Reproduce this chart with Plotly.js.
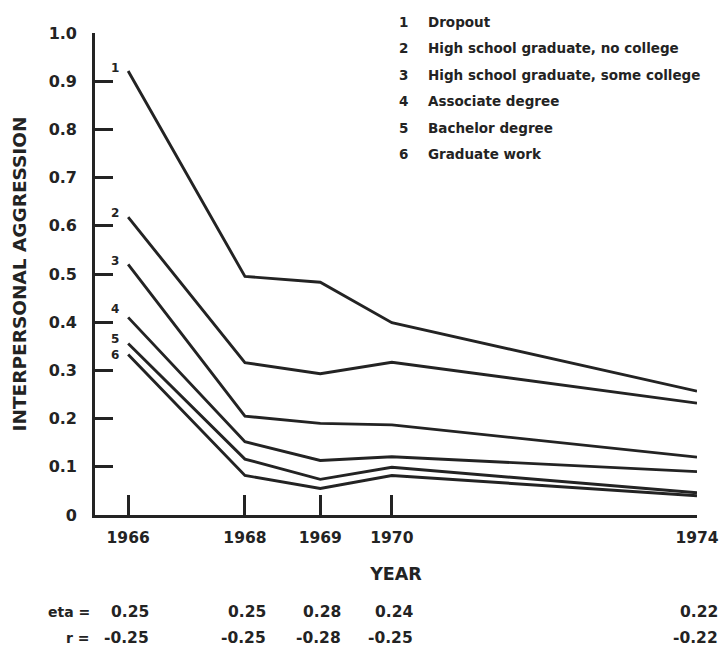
<!DOCTYPE html>
<html>
<head>
<meta charset="utf-8">
<script src="https://cdn.plot.ly/plotly-3.0.1.min.js"></script>
<style>
  html, body { margin: 0; padding: 0; background: #ffffff; }
  #chart { width: 720px; height: 646px; }
</style>
</head>
<body>
<div id="chart"></div>
<script>
// ---------------- data ----------------
const yearLabels = ['1966', '1968', '1969', '1970', '1974'];
// survey dates (fall 1966, then spring waves), in years
const surveyTime = [1966.85, 1968.4, 1969.4, 1970.35, 1974.4];

const groupNumbers = ['1', '2', '3', '4', '5', '6'];
const groupNames = [
  'Dropout',
  'High school graduate, no college',
  'High school graduate, some college',
  'Associate degree',
  'Bachelor degree',
  'Graduate work'
];

const dropout       = [0.921, 0.495, 0.483, 0.399, 0.257];
const hsNoCollege   = [0.618, 0.316, 0.293, 0.317, 0.232];
const hsSomeCollege = [0.520, 0.205, 0.190, 0.187, 0.120];
const associate     = [0.410, 0.152, 0.113, 0.121, 0.090];
const bachelor      = [0.356, 0.116, 0.074, 0.099, 0.046];
const graduate      = [0.333, 0.082, 0.055, 0.082, 0.040];

const etaValues = ['0.25', '0.25', '0.28', '0.24', '0.22'];
const rValues   = ['-0.25', '-0.25', '-0.28', '-0.25', '-0.22'];

const yTickVals = [0, 0.1, 0.2, 0.3, 0.4, 0.5, 0.6, 0.7, 0.8, 0.9, 1.0];
const yTickText = ['0', '0.1', '0.2', '0.3', '0.4', '0.5', '0.6', '0.7', '0.8', '0.9', '1.0'];

// ---------------- styling ----------------
const INK = '#232323';
const FONT = 'DejaVu Sans';
const W = 720, H = 646;
const M = { l: 95, r: 23, t: 33, b: 131 };
const plotW = W - M.l - M.r, plotH = H - M.t - M.b;
const px2paperX = px => (px - M.l) / plotW;
const px2paperY = py => (H - M.b - py) / plotH;

const series = [dropout, hsNoCollege, hsSomeCollege, associate, bachelor, graduate];
const labelYShift = [3, 4, 3, 8, 4, -1];

const traces = series.map((vals, i) => ({
  type: 'scatter',
  mode: 'lines',
  x: surveyTime,
  y: vals,
  name: groupNames[i],
  line: { color: INK, width: 2.9 },
  cliponaxis: false,
  hoverinfo: 'x+y+name'
}));

const annotations = [];

// numbers at the line starts
series.forEach((vals, i) => {
  annotations.push({
    xref: 'x', yref: 'y', x: surveyTime[0], y: vals[0],
    text: groupNumbers[i], showarrow: false,
    xanchor: 'right', yanchor: 'middle', xshift: -7, yshift: labelYShift[i],
    font: { family: FONT, size: 12, weight: 'bold', color: INK }
  });
});

// key at top right
groupNames.forEach((name, i) => {
  const rowY = px2paperY(22 + i * 26.4);
  annotations.push({
    xref: 'paper', yref: 'paper', x: px2paperX(403), y: rowY,
    text: groupNumbers[i], showarrow: false, xanchor: 'center', yanchor: 'middle',
    font: { family: FONT, size: 13.5, weight: 'bold', color: INK }
  });
  annotations.push({
    xref: 'paper', yref: 'paper', x: px2paperX(426), y: rowY,
    text: name, showarrow: false, xanchor: 'left', yanchor: 'middle',
    font: { family: FONT, size: 13.5, weight: 'bold', color: INK }
  });
});

// eta and r rows
const rowEtaY = px2paperY(612), rowRY = px2paperY(638);
annotations.push({
  xref: 'paper', yref: 'paper', x: px2paperX(92), y: rowEtaY, text: 'eta =',
  showarrow: false, xanchor: 'right', yanchor: 'middle',
  font: { family: FONT, size: 14, weight: 'bold', color: INK }
});
annotations.push({
  xref: 'paper', yref: 'paper', x: px2paperX(92), y: rowRY, text: 'r =',
  showarrow: false, xanchor: 'right', yanchor: 'middle',
  font: { family: FONT, size: 14, weight: 'bold', color: INK }
});
surveyTime.forEach((t, i) => {
  annotations.push({
    xref: 'x', yref: 'paper', x: t, y: rowEtaY, text: etaValues[i],
    showarrow: false, xanchor: 'right', yanchor: 'middle', xshift: 23,
    font: { family: FONT, size: 15.5, weight: 'bold', color: INK }
  });
  annotations.push({
    xref: 'x', yref: 'paper', x: t, y: rowRY, text: rValues[i],
    showarrow: false, xanchor: 'right', yanchor: 'middle', xshift: 23,
    font: { family: FONT, size: 15.5, weight: 'bold', color: INK }
  });
});

const layout = {
  width: W, height: H,
  margin: M,
  paper_bgcolor: '#ffffff',
  plot_bgcolor: '#ffffff',
  showlegend: false,
  font: { family: FONT, color: INK, weight: 'bold' },
  xaxis: {
    range: [1966.41, 1974.4],
    tickmode: 'array',
    tickvals: surveyTime,
    ticktext: yearLabels,
    ticks: 'inside', ticklen: 20, tickwidth: 2.5, tickcolor: INK,
    showline: true, linecolor: INK, linewidth: 2.6,
    showgrid: false, zeroline: false,
    ticklabelstandoff: 7,
    tickfont: { family: FONT, size: 15.5, weight: 'bold', color: INK },
    title: { text: 'YEAR', standoff: 22, font: { family: FONT, size: 17.5, weight: 'bold', color: INK } },
    fixedrange: true
  },
  yaxis: {
    range: [0, 1.0],
    tickmode: 'array',
    tickvals: yTickVals,
    ticktext: yTickText,
    ticks: 'inside', ticklen: 18, tickwidth: 2.5, tickcolor: INK,
    showline: true, linecolor: INK, linewidth: 2.6,
    showgrid: false, zeroline: false,
    ticklabelstandoff: 12,
    tickfont: { family: FONT, size: 16, weight: 'bold', color: INK },
    title: { text: 'INTERPERSONAL AGGRESSION', standoff: 18, font: { family: FONT, size: 18.5, weight: 'bold', color: INK } },
    fixedrange: true
  },
  annotations: annotations
};

Plotly.newPlot('chart', traces, layout, { displayModeBar: false, staticPlot: false });
</script>
</body>
</html>
